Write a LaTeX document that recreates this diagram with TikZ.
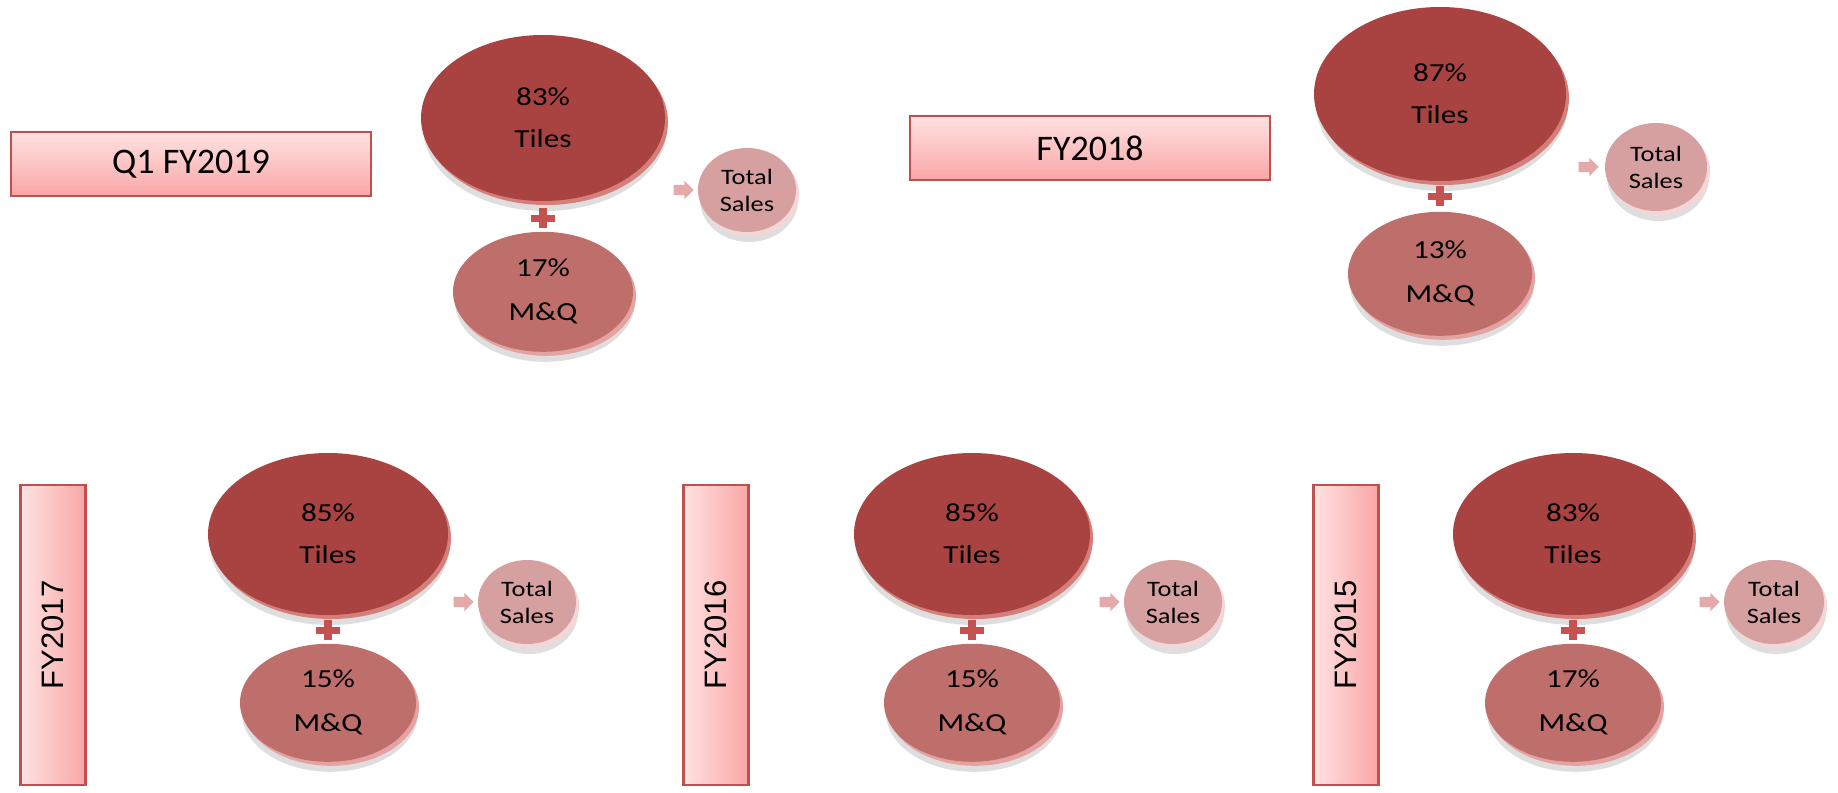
\documentclass[tikz,border=0pt]{standalone}
\usepackage{fontspec}
\setmainfont{Carlito}
\newfontfamily\ballfont[FakeStretch=1.2]{Carlito}
\newfontfamily\sidefont{Liberation Sans}
\usetikzlibrary{positioning,shapes.geometric,shapes.arrows,shadows}
\definecolor{tilesred}{RGB}{168,67,65}
\definecolor{tilesrim}{RGB}{214,126,122}
\definecolor{mqred}{RGB}{190,111,108}
\definecolor{mqrim}{RGB}{228,163,160}
\definecolor{salespink}{RGB}{214,160,160}
\definecolor{salesrim}{RGB}{243,214,213}
\definecolor{boxborder}{RGB}{192,80,77}
\definecolor{boxtop}{RGB}{255,226,226}
\definecolor{boxbottom}{RGB}{249,166,166}
\definecolor{plusred}{RGB}{196,82,80}
\definecolor{arrowpink}{RGB}{228,170,170}
\newcommand{\upright}[1]{\rotatebox{90}{#1}}

\begin{document}
\begin{tikzpicture}[x=1pt,y=-1pt,
    yearbox/.style={rectangle,draw=boxborder,line width=2.5pt,
      top color=boxtop,bottom color=boxbottom,inner sep=0pt,
      minimum width=360pt,minimum height=64pt,
      font=\fontsize{36}{40}\selectfont},
    sidebox/.style={rectangle,draw=boxborder,line width=2.5pt,
      left color=boxtop,right color=boxbottom,inner sep=0pt,
      minimum width=65pt,minimum height=300pt,
      font=\sidefont\fontsize{31}{34}\selectfont},
    bevel/.style={
      general shadow={fill=black,opacity=.13,shadow xshift=2pt,shadow yshift=-10pt},
      general shadow={fill=#1,shadow xshift=3pt,shadow yshift=-4pt}},
    tiles/.style={ellipse,fill=tilesred,bevel=tilesrim,inner sep=0pt,align=center,
      minimum width=240pt,minimum height=162pt,
      font=\ballfont\fontsize{26}{42}\selectfont},
    share/.style={ellipse,fill=mqred,bevel=mqrim,inner sep=0pt,align=center,
      minimum width=176pt,minimum height=118pt,
      font=\ballfont\fontsize{26}{44}\selectfont},
    total/.style={ellipse,fill=salespink,bevel=salesrim,inner sep=0pt,align=center,
      minimum width=98pt,minimum height=84pt,
      font=\ballfont\fontsize{22}{27}\selectfont},
    plussign/.style={rectangle,minimum width=24pt,minimum height=20pt,inner sep=0pt,
      path picture={
        \fill[plusred] ([xshift=-12pt,yshift=-3.5pt]path picture bounding box.center)
          rectangle ++(24pt,7pt);
        \fill[plusred] ([xshift=-4pt,yshift=-10pt]path picture bounding box.center)
          rectangle ++(8pt,20pt);}},
    pointer/.style={single arrow,fill=arrowpink,inner sep=5pt,
      single arrow head extend=4pt,minimum height=20pt}]

  \useasboundingbox (0,0) rectangle (1838,792);

  % Q1 FY2019
  \node[yearbox] (q19box) at (191,164) {Q1 FY2019};
  \node[tiles,minimum width=244pt,minimum height=166pt] (tiles19) at (543,118) {83\%\\Tiles};
  \node[plussign,below=7pt of tiles19] (plus19) {};
  \node[share,minimum width=180pt,minimum height=120pt,below=3pt of plus19] (mq19) {17\%\\M\&Q};
  \node[total] (total19) at (747,190) {Total\\Sales};
  \node[pointer,left=4pt of total19] (arrow19) {};

  % FY2018
  \node[yearbox] (fy18box) at (1090,148) {FY2018};
  \node[tiles,minimum width=252pt,minimum height=174pt] (tiles18) at (1440,94) {87\%\\Tiles};
  \node[plussign,below=5pt of tiles18] (plus18) {};
  \node[share,minimum width=184pt,minimum height=124pt,below=5pt of plus18] (mq18) {13\%\\M\&Q};
  \node[total,minimum width=102pt,minimum height=88pt] (total18) at (1656,167) {Total\\Sales};
  \node[pointer,left=6pt of total18] (arrow18) {};

  % FY2017
  \node[sidebox] (fy17box) at (53,635) {\upright{FY2017}};
  \node[tiles] (tiles17) at (328,534) {85\%\\Tiles};
  \node[plussign,below=5pt of tiles17] (plus17) {};
  \node[share,below=3pt of plus17] (mq17) {15\%\\M\&Q};
  \node[total] (total17) at (527,602) {Total\\Sales};
  \node[pointer,left=4pt of total17] (arrow17) {};

  % FY2016
  \node[sidebox] (fy16box) at (716,635) {\upright{FY2016}};
  \node[tiles,minimum width=236pt] (tiles16) at (972,534) {85\%\\Tiles};
  \node[plussign,below=5pt of tiles16] (plus16) {};
  \node[share,below=3pt of plus16] (mq16) {15\%\\M\&Q};
  \node[total] (total16) at (1173,602) {Total\\Sales};
  \node[pointer,left=4pt of total16] (arrow16) {};

  % FY2015
  \node[sidebox] (fy15box) at (1346,635) {\upright{FY2015}};
  \node[tiles] (tiles15) at (1573,534) {83\%\\Tiles};
  \node[plussign,below=5pt of tiles15] (plus15) {};
  \node[share,below=3pt of plus15] (mq15) {17\%\\M\&Q};
  \node[total,minimum width=100pt] (total15) at (1774,602) {Total\\Sales};
  \node[pointer,left=4pt of total15] (arrow15) {};

\end{tikzpicture}
\end{document}
